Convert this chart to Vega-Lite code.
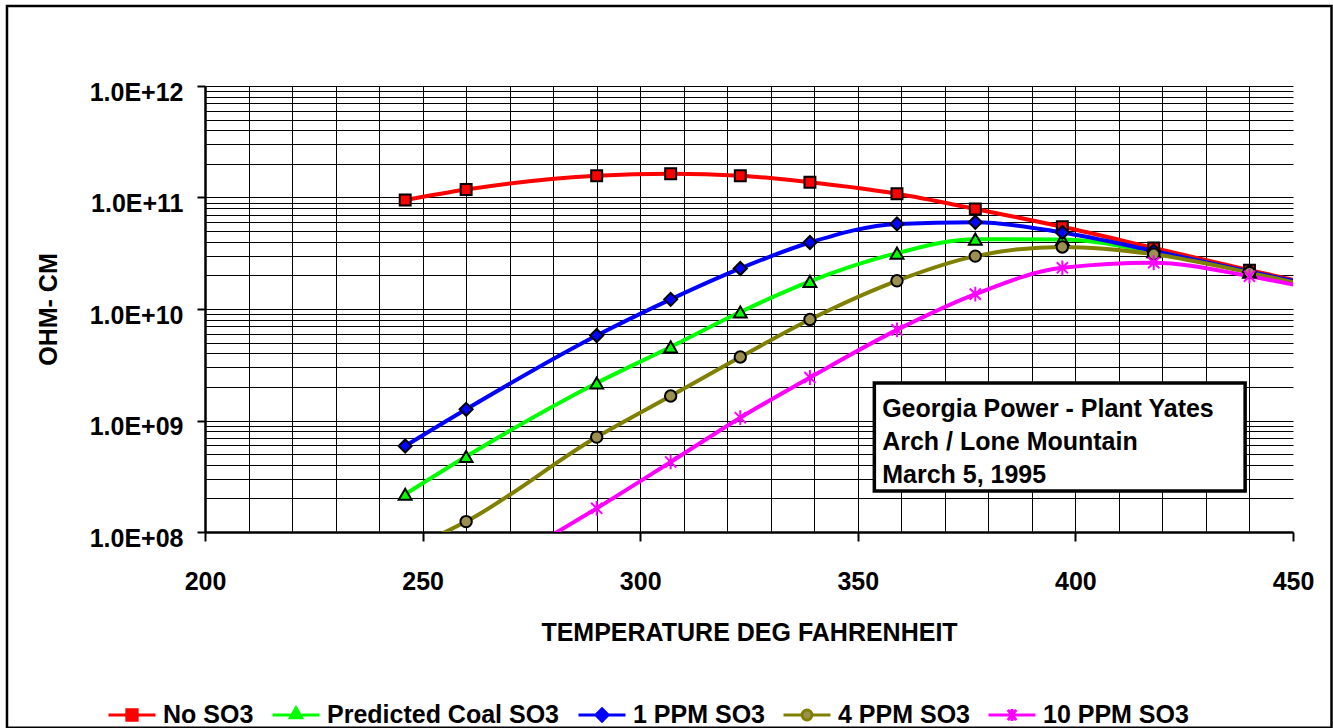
{
  "$schema": "https://vega.github.io/schema/vega-lite/v6.json",
  "width": 1088,
  "height": 446,
  "autosize": {"type": "none"},
  "padding": {"left": 205, "top": 86, "right": 40, "bottom": 196},
  "background": "white",
  "config": {"view": {"stroke": null}, "font": "Liberation Sans"},
  "datasets": {
    "resistivity": [
      {"series": "No SO3", "T": 246, "R": 9.5e10},
      {"series": "No SO3", "T": 260, "R": 1.18e11},
      {"series": "No SO3", "T": 290, "R": 1.57e11},
      {"series": "No SO3", "T": 307, "R": 1.63e11},
      {"series": "No SO3", "T": 323, "R": 1.57e11},
      {"series": "No SO3", "T": 339, "R": 1.37e11},
      {"series": "No SO3", "T": 359, "R": 1.08e11},
      {"series": "No SO3", "T": 377, "R": 7.9e10},
      {"series": "No SO3", "T": 397, "R": 5.46e10},
      {"series": "No SO3", "T": 418, "R": 3.53e10},
      {"series": "No SO3", "T": 440, "R": 2.23e10},
      {"series": "No SO3", "T": 451, "R": 1.79e10},
      {"series": "Predicted Coal SO3", "T": 246, "R": 2.18e8},
      {"series": "Predicted Coal SO3", "T": 260, "R": 4.75e8},
      {"series": "Predicted Coal SO3", "T": 290, "R": 2.17e9},
      {"series": "Predicted Coal SO3", "T": 307, "R": 4.57e9},
      {"series": "Predicted Coal SO3", "T": 323, "R": 9.4e9},
      {"series": "Predicted Coal SO3", "T": 339, "R": 1.77e10},
      {"series": "Predicted Coal SO3", "T": 359, "R": 3.17e10},
      {"series": "Predicted Coal SO3", "T": 377, "R": 4.23e10},
      {"series": "Predicted Coal SO3", "T": 397, "R": 4.2e10},
      {"series": "Predicted Coal SO3", "T": 418, "R": 3.26e10},
      {"series": "Predicted Coal SO3", "T": 440, "R": 2.14e10},
      {"series": "Predicted Coal SO3", "T": 451, "R": 1.73e10},
      {"series": "1 PPM SO3", "T": 246, "R": 5.9e8},
      {"series": "1 PPM SO3", "T": 260, "R": 1.26e9},
      {"series": "1 PPM SO3", "T": 290, "R": 5.78e9},
      {"series": "1 PPM SO3", "T": 307, "R": 1.22e10},
      {"series": "1 PPM SO3", "T": 323, "R": 2.31e10},
      {"series": "1 PPM SO3", "T": 339, "R": 3.95e10},
      {"series": "1 PPM SO3", "T": 359, "R": 5.8e10},
      {"series": "1 PPM SO3", "T": 377, "R": 6.0e10},
      {"series": "1 PPM SO3", "T": 397, "R": 4.86e10},
      {"series": "1 PPM SO3", "T": 418, "R": 3.32e10},
      {"series": "1 PPM SO3", "T": 440, "R": 2.16e10},
      {"series": "1 PPM SO3", "T": 451, "R": 1.76e10},
      {"series": "4 PPM SO3", "T": 246, "R": 6.8e7},
      {"series": "4 PPM SO3", "T": 260, "R": 1.24e8},
      {"series": "4 PPM SO3", "T": 290, "R": 7.1e8},
      {"series": "4 PPM SO3", "T": 307, "R": 1.66e9},
      {"series": "4 PPM SO3", "T": 323, "R": 3.71e9},
      {"series": "4 PPM SO3", "T": 339, "R": 8.05e9},
      {"series": "4 PPM SO3", "T": 359, "R": 1.79e10},
      {"series": "4 PPM SO3", "T": 377, "R": 2.98e10},
      {"series": "4 PPM SO3", "T": 397, "R": 3.6e10},
      {"series": "4 PPM SO3", "T": 418, "R": 3.1e10},
      {"series": "4 PPM SO3", "T": 440, "R": 2.12e10},
      {"series": "4 PPM SO3", "T": 451, "R": 1.7e10},
      {"series": "10 PPM SO3", "T": 246, "R": 1.7e7},
      {"series": "10 PPM SO3", "T": 260, "R": 3.4e7},
      {"series": "10 PPM SO3", "T": 290, "R": 1.63e8},
      {"series": "10 PPM SO3", "T": 307, "R": 4.25e8},
      {"series": "10 PPM SO3", "T": 323, "R": 1.06e9},
      {"series": "10 PPM SO3", "T": 339, "R": 2.43e9},
      {"series": "10 PPM SO3", "T": 359, "R": 6.5e9},
      {"series": "10 PPM SO3", "T": 377, "R": 1.36e10},
      {"series": "10 PPM SO3", "T": 397, "R": 2.34e10},
      {"series": "10 PPM SO3", "T": 418, "R": 2.6e10},
      {"series": "10 PPM SO3", "T": 440, "R": 1.97e10},
      {"series": "10 PPM SO3", "T": 451, "R": 1.63e10}
    ]
  },
  "layer": [
    {
      "data": {"values": [{}]},
      "mark": {"type": "rect", "filled": false, "stroke": "black", "strokeWidth": 2.5, "clip": false},
      "encoding": {
        "x": {"datum": 154.5, "type": "quantitative", "scale": {"domain": [200, 450], "nice": false, "zero": false}},
        "x2": {"datum": 458.85},
        "y": {"datum": 5.22e12, "type": "quantitative", "scale": {"type": "log", "domain": [1e8, 1e12], "nice": false}},
        "y2": {"datum": 1.76e6}
      }
    },
    {
      "data": {"name": "resistivity"},
      "mark": {"type": "line", "interpolate": "monotone", "strokeWidth": 4, "strokeJoin": "round", "clip": true},
      "encoding": {
        "x": {
          "field": "T", "type": "quantitative",
          "scale": {"domain": [200, 450], "nice": false, "zero": false},
          "axis": {
            "title": "TEMPERATURE DEG FAHRENHEIT",
            "values": [200, 210, 220, 230, 240, 250, 260, 270, 280, 290, 300, 310, 320, 330, 340, 350, 360, 370, 380, 390, 400, 410, 420, 430, 440, 450],
            "format": "d",
            "labelExpr": "datum.value % 50 === 0 ? datum.label : ''",
            "grid": true, "gridColor": "black", "gridWidth": 1,
            "gridOpacity": {"condition": {"test": "datum.value === 450 || datum.value === 200", "value": 0}, "value": 1},
            "tickOpacity": {"condition": {"test": "datum.value % 50 === 0", "value": 1}, "value": 0},
            "tickColor": "black", "tickSize": 9, "tickWidth": 2,
            "domainColor": "black", "domainWidth": 2.5,
            "labelFont": "Liberation Sans", "labelFontSize": 25, "labelFontWeight": "bold", "labelColor": "black",
            "labelPadding": 28, "labelFlush": false, "labelOverlap": false,
            "titleFont": "Liberation Sans", "titleFontSize": 25, "titleFontWeight": "bold", "titleColor": "black",
            "titlePadding": 26
          }
        },
        "y": {
          "field": "R", "type": "quantitative",
          "scale": {"type": "log", "domain": [1e8, 1e12], "nice": false},
          "axis": {
            "title": "OHM- CM",
            "values": [1e8, 2e8, 3e8, 4e8, 5e8, 6e8, 7e8, 8e8, 9e8, 1e9, 2e9, 3e9, 4e9, 5e9, 6e9, 7e9, 8e9, 9e9, 1e10, 2e10, 3e10, 4e10, 5e10, 6e10, 7e10, 8e10, 9e10, 1e11, 2e11, 3e11, 4e11, 5e11, 6e11, 7e11, 8e11, 9e11, 1e12],
            "labelExpr": "datum.value === 1e8 ? '1.0E+08' : datum.value === 1e9 ? '1.0E+09' : datum.value === 1e10 ? '1.0E+10' : datum.value === 1e11 ? '1.0E+11' : datum.value === 1e12 ? '1.0E+12' : ''",
            "grid": true, "gridColor": "black", "gridWidth": 1,
            "tickOpacity": {"condition": {"test": "datum.value === 1e8 || datum.value === 1e9 || datum.value === 1e10 || datum.value === 1e11 || datum.value === 1e12", "value": 1}, "value": 0},
            "tickColor": "black", "tickSize": 8, "tickWidth": 2,
            "domainColor": "black", "domainWidth": 2.5,
            "labelFont": "Liberation Sans", "labelFontSize": 25, "labelFontWeight": "bold", "labelColor": "black",
            "labelPadding": 14, "labelOffset": 6, "labelFlush": false, "labelOverlap": false,
            "titleFont": "Liberation Sans", "titleFontSize": 25, "titleFontWeight": "bold", "titleColor": "black",
            "titlePadding": 28
          }
        },
        "stroke": {
          "field": "series", "type": "nominal",
          "scale": {"domain": ["No SO3", "Predicted Coal SO3", "1 PPM SO3", "4 PPM SO3", "10 PPM SO3"], "range": ["#FF0000", "#00FF00", "#0000FF", "#808000", "#FF00FF"]}
        },
        "detail": {"field": "series"},
        "order": {"field": "T", "type": "quantitative"}
      }
    },
    {
      "data": {"name": "resistivity"},
      "transform": [{"filter": "datum.T <= 440"}],
      "mark": {"type": "point", "filled": true, "opacity": 1, "strokeWidth": 2, "clip": true},
      "encoding": {
        "x": {"field": "T", "type": "quantitative", "scale": {"domain": [200, 450], "nice": false, "zero": false}},
        "y": {"field": "R", "type": "quantitative", "scale": {"type": "log", "domain": [1e8, 1e12], "nice": false}},
        "shape": {
          "condition": [
            {"test": "datum.series === 'No SO3'", "value": "square"},
            {"test": "datum.series === 'Predicted Coal SO3'", "value": "triangle-up"},
            {"test": "datum.series === '1 PPM SO3'", "value": "diamond"},
            {"test": "datum.series === '4 PPM SO3'", "value": "circle"}
          ],
          "value": "M-0.75,-0.75L0.75,0.75M-0.75,0.75L0.75,-0.75M0,-1L0,1"
        },
        "fill": {
          "field": "series", "type": "nominal",
          "scale": {"domain": ["No SO3", "Predicted Coal SO3", "1 PPM SO3", "4 PPM SO3", "10 PPM SO3"], "range": ["#FF0000", "#00FF00", "#0000FF", "#9C8F4F", "transparent"]}
        },
        "stroke": {"condition": {"test": "datum.series === '10 PPM SO3'", "value": "#FF00FF"}, "value": "black"},
        "size": {
          "condition": [
            {"test": "datum.series === '10 PPM SO3'", "value": 220},
            {"test": "datum.series === 'Predicted Coal SO3'", "value": 165},
            {"test": "datum.series === '1 PPM SO3'", "value": 170},
            {"test": "datum.series === '4 PPM SO3'", "value": 130}
          ],
          "value": 120
        }
      }
    },
    {
      "data": {"name": "resistivity"},
      "transform": [{"filter": "datum.T > 1000"}],
      "mark": {"type": "point", "filled": true, "opacity": 1, "strokeWidth": 3},
      "encoding": {
        "x": {"field": "T", "type": "quantitative", "scale": {"domain": [200, 450], "nice": false, "zero": false}},
        "y": {"field": "R", "type": "quantitative", "scale": {"type": "log", "domain": [1e8, 1e12], "nice": false}},
        "shape": {
          "field": "series", "type": "nominal",
          "scale": {"domain": ["No SO3", "Predicted Coal SO3", "1 PPM SO3", "4 PPM SO3", "10 PPM SO3"], "range": ["M-1,0H-0.22M0.22,0H1M-0.22,-0.22H0.22V0.22H-0.22Z", "M-1,0H-0.24M0.24,0H1M0,-0.3L0.24,0.12H-0.24Z", "M-1,0H-0.26M0.26,0H1M0,-0.26L0.26,0L0,0.26L-0.26,0Z", "M-1,0H-0.21M0.21,0H1M-0.21,0A0.21,0.21,0,1,0,0.21,0A0.21,0.21,0,1,0,-0.21,0Z", "M-1,0H1M-0.18,-0.22L0.18,0.22M-0.18,0.22L0.18,-0.22M0,-0.26V0.26"]},
          "legend": {
            "title": null,
            "orient": "none",
            "legendX": -98,
            "legendY": 604,
            "direction": "horizontal",
            "columns": 5,
            "labelFont": "Liberation Sans", "labelFontSize": 25, "labelFontWeight": "bold", "labelColor": "black",
            "labelLimit": 400, "labelOffset": 6, "columnPadding": 12,
            "symbolSize": 2209, "symbolStrokeWidth": 3, "symbolOpacity": 1
          }
        },
        "fill": {
          "field": "series", "type": "nominal",
          "scale": {"domain": ["No SO3", "Predicted Coal SO3", "1 PPM SO3", "4 PPM SO3", "10 PPM SO3"], "range": ["#FF0000", "#00FF00", "#0000FF", "#9C8F4F", "transparent"]},
          "legend": {
            "title": null,
            "orient": "none",
            "legendX": -98,
            "legendY": 604,
            "direction": "horizontal",
            "columns": 5,
            "labelFont": "Liberation Sans", "labelFontSize": 25, "labelFontWeight": "bold", "labelColor": "black",
            "labelLimit": 400, "labelOffset": 6, "columnPadding": 12,
            "symbolSize": 2209, "symbolStrokeWidth": 3, "symbolOpacity": 1
          }
        },
        "stroke": {
          "field": "series", "type": "nominal",
          "scale": {"domain": ["No SO3", "Predicted Coal SO3", "1 PPM SO3", "4 PPM SO3", "10 PPM SO3"], "range": ["#FF0000", "#00FF00", "#0000FF", "#808000", "#FF00FF"]},
          "legend": {
            "title": null,
            "orient": "none",
            "legendX": -98,
            "legendY": 604,
            "direction": "horizontal",
            "columns": 5,
            "labelFont": "Liberation Sans", "labelFontSize": 25, "labelFontWeight": "bold", "labelColor": "black",
            "labelLimit": 400, "labelOffset": 6, "columnPadding": 12,
            "symbolSize": 2209, "symbolStrokeWidth": 3, "symbolOpacity": 1
          }
        }
      }
    },
    {
      "data": {"values": [{}]},
      "mark": {"type": "rect", "fill": "white", "stroke": "black", "strokeWidth": 3.5},
      "encoding": {
        "x": {"datum": 353.8, "type": "quantitative", "scale": {"domain": [200, 450], "nice": false, "zero": false}},
        "x2": {"datum": 439},
        "y": {"datum": 2.17e9, "type": "quantitative", "scale": {"type": "log", "domain": [1e8, 1e12], "nice": false}},
        "y2": {"datum": 2.33e8}
      }
    },
    {
      "data": {"values": [{"note": "Georgia Power - Plant Yates\nArch / Lone Mountain\nMarch 5, 1995"}]},
      "mark": {"type": "text", "align": "left", "baseline": "top", "lineBreak": "\n", "lineHeight": 33, "font": "Liberation Sans", "fontSize": 25, "fontWeight": "bold", "color": "black"},
      "encoding": {
        "x": {"datum": 355.6, "type": "quantitative", "scale": {"domain": [200, 450], "nice": false, "zero": false}},
        "y": {"datum": 1.63e9, "type": "quantitative", "scale": {"type": "log", "domain": [1e8, 1e12], "nice": false}},
        "text": {"field": "note"}
      }
    }
  ]
}
